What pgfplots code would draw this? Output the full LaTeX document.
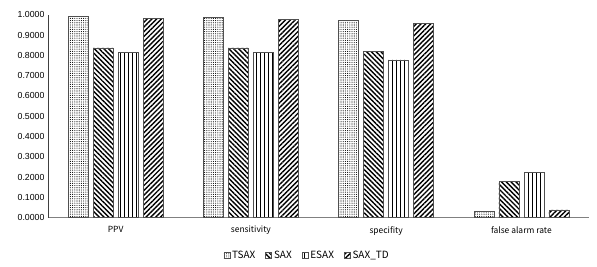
\documentclass[border=0pt]{standalone}
\usepackage{pgfplots}
\pgfplotsset{compat=1.18}
\usepackage{fontspec}
\setmainfont{Liberation Sans}
\newfontfamily\cjk{Noto Sans CJK SC}
\usetikzlibrary{patterns,patterns.meta}
\definecolor{bord}{HTML}{505050}
\begin{document}
\begin{tikzpicture}
\path[use as bounding box] (-48bp,-49.3bp) rectangle (549bp,217.7bp);
\begin{axis}[
  at={(0,0)}, anchor=south west,
  scale only axis, width=541bp, height=203bp,
  ybar=5bp, bar width=20bp,
  xmin=-0.5, xmax=3.5, ymin=0, ymax=1,
  xtick=data, xticklabels={PPV,sensitivity,specifity,false alarm rate},
  ytick={0,0.1,...,1.0},
  axis x line=bottom, axis y line=left,
  axis line style={-, draw=black!75, line width=0.8pt},
  x axis line style={draw=black!50},
  major tick length=0pt,
  /pgf/number format/assume math mode=true,
  yticklabel style={font=\fontsize{8.8}{10}\selectfont, /pgf/number format/.cd, fixed, fixed zerofill, precision=4},
  xticklabel style={font=\cjk\fontsize{8.5}{10}\selectfont, yshift=-5bp},
  legend style={at={(0.479,-0.185)}, anchor=center, legend columns=-1, draw=none,
    font=\cjk\fontsize{10}{12}\selectfont, inner sep=0pt,
    /tikz/every even column/.append style={column sep=8bp}},
  legend image code/.code={\draw[#1] (0bp,-3bp) rectangle (6bp,3bp);},
  clip=false,
]
\addplot[draw=bord, line width=0.6pt, pattern={Dots[distance=2.2bp, radius=0.55bp]}] coordinates {(0,0.990) (1,0.985) (2,0.972) (3,0.030)};
\addplot[draw=bord, line width=0.6pt, pattern={Lines[angle=-45, distance=3.4bp, line width=1.4bp]}] coordinates {(0,0.836) (1,0.836) (2,0.820) (3,0.177)};
\addplot[draw=bord, line width=0.6pt, pattern={Lines[angle=90, distance=4bp, line width=0.9bp]}] coordinates {(0,0.815) (1,0.815) (2,0.777) (3,0.224)};
\addplot[draw=bord, line width=0.6pt, pattern={Lines[angle=45, distance=3.4bp, line width=1.4bp]}] coordinates {(0,0.980) (1,0.975) (2,0.959) (3,0.038)};
\legend{TSAX,SAX,ESAX,SAX\_TD}
\end{axis}
\end{tikzpicture}
\end{document}
